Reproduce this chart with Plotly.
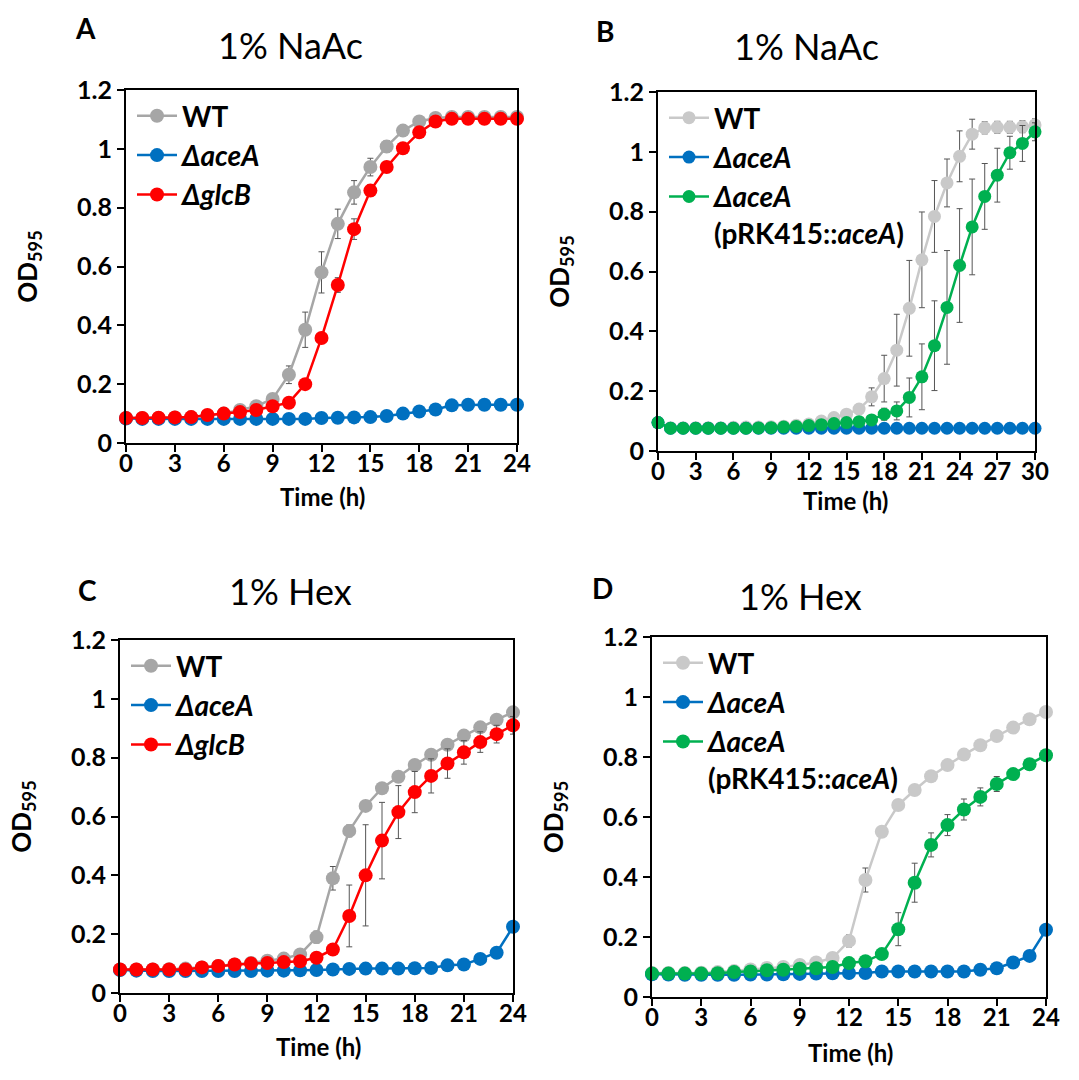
import plotly.graph_objects as go

# ---------------- data ----------------
hours_24 = list(range(25))
hours_30 = list(range(31))

# Panel A: 1% NaAc
A_WT = [0.085, 0.085, 0.085, 0.087, 0.088, 0.093, 0.100, 0.112, 0.125, 0.150, 0.232, 0.385, 0.580, 0.745, 0.852,
        0.938, 1.008, 1.062, 1.093, 1.105, 1.108, 1.108, 1.108, 1.108, 1.108]
A_WT_err = [0, 0, 0, 0, 0, 0, 0, 0, 0.005, 0.01, 0.03, 0.06, 0.07, 0.05, 0.04, 0.03, 0.02, 0.01, 0.01, 0.005,
            0, 0, 0, 0, 0]
A_aceA = [0.083, 0.082, 0.082, 0.082, 0.082, 0.082, 0.082, 0.082, 0.082, 0.082, 0.082, 0.082, 0.085, 0.086, 0.087,
          0.088, 0.092, 0.100, 0.107, 0.114, 0.128, 0.130, 0.130, 0.130, 0.130]
A_glcB = [0.085, 0.085, 0.086, 0.087, 0.088, 0.095, 0.100, 0.105, 0.112, 0.125, 0.137, 0.200, 0.357, 0.537, 0.727,
          0.858, 0.938, 1.002, 1.056, 1.093, 1.102, 1.102, 1.102, 1.102, 1.102]
A_glcB_err = [0, 0, 0, 0, 0, 0, 0, 0, 0, 0, 0, 0.005, 0.01, 0.025, 0.035, 0.02, 0.015, 0.01, 0.01, 0.005,
              0, 0, 0, 0, 0]

# Panel B: 1% NaAc, complementation
B_WT = [0.095, 0.078, 0.078, 0.078, 0.078, 0.078, 0.079, 0.080, 0.080, 0.081, 0.083, 0.086, 0.090, 0.100, 0.112,
        0.123, 0.140, 0.181, 0.242, 0.337, 0.477, 0.639, 0.784, 0.896, 0.985, 1.059, 1.080, 1.082, 1.082, 1.084,
        1.090]
B_WT_err = [0, 0, 0, 0, 0, 0, 0, 0, 0, 0, 0, 0, 0, 0.005, 0.01, 0.01, 0.015, 0.03, 0.078, 0.12, 0.16, 0.16, 0.12,
            0.08, 0.085, 0.05, 0.02, 0.02, 0.02, 0.02, 0.02]
B_aceA = [0.095, 0.076, 0.076, 0.076, 0.076, 0.076, 0.076, 0.076, 0.076, 0.076, 0.076, 0.076, 0.076, 0.076, 0.076,
          0.076, 0.076, 0.076, 0.076, 0.076, 0.076, 0.076, 0.076, 0.076, 0.076, 0.076, 0.076, 0.076, 0.076, 0.076,
          0.076]
B_comp = [0.095, 0.076, 0.076, 0.076, 0.076, 0.076, 0.076, 0.076, 0.077, 0.078, 0.080, 0.082, 0.085, 0.088, 0.092,
          0.095, 0.098, 0.104, 0.123, 0.134, 0.179, 0.248, 0.352, 0.480, 0.620, 0.749, 0.851, 0.922, 0.997, 1.028,
          1.067]
B_comp_err = [0, 0, 0, 0, 0, 0, 0, 0, 0, 0, 0, 0, 0, 0, 0, 0, 0, 0.01, 0.02, 0.03, 0.065, 0.11, 0.15, 0.19, 0.19,
              0.16, 0.11, 0.09, 0.055, 0.06, 0.03]

# Panel C: 1% Hex
C_WT = [0.080, 0.080, 0.080, 0.081, 0.083, 0.087, 0.092, 0.097, 0.102, 0.110, 0.117, 0.131, 0.190, 0.390, 0.551,
        0.636, 0.696, 0.735, 0.775, 0.810, 0.844, 0.875, 0.903, 0.929, 0.954]
C_WT_err = [0, 0, 0, 0, 0, 0, 0, 0, 0, 0, 0, 0.005, 0.02, 0.04, 0.02, 0.01, 0.01, 0.01, 0.01, 0.01, 0.01, 0.01,
            0.01, 0.01, 0.01]
C_aceA = [0.078, 0.076, 0.075, 0.075, 0.075, 0.075, 0.075, 0.075, 0.075, 0.076, 0.076, 0.077, 0.078, 0.080, 0.082,
          0.083, 0.083, 0.083, 0.084, 0.085, 0.094, 0.097, 0.116, 0.137, 0.225]
C_glcB = [0.080, 0.080, 0.080, 0.080, 0.080, 0.087, 0.092, 0.097, 0.100, 0.102, 0.105, 0.108, 0.120, 0.148, 0.262,
          0.400, 0.518, 0.615, 0.683, 0.738, 0.780, 0.818, 0.853, 0.880, 0.910]
C_glcB_err = [0, 0, 0, 0, 0, 0, 0, 0, 0, 0, 0, 0, 0, 0.01, 0.105, 0.172, 0.13, 0.09, 0.07, 0.058, 0.05, 0.04, 0.035,
              0.03, 0.03]

# Panel D: 1% Hex, complementation
D_WT = [0.080, 0.080, 0.080, 0.081, 0.083, 0.087, 0.092, 0.097, 0.100, 0.107, 0.115, 0.130, 0.187, 0.390, 0.551,
        0.640, 0.690, 0.736, 0.773, 0.808, 0.839, 0.870, 0.898, 0.926, 0.950]
D_WT_err = [0, 0, 0, 0, 0, 0, 0, 0, 0, 0, 0, 0, 0.02, 0.04, 0.01, 0.005, 0.005, 0.005, 0.005, 0.005, 0.005, 0.005,
            0.005, 0.005, 0.005]
D_aceA = [0.076, 0.075, 0.074, 0.074, 0.074, 0.074, 0.075, 0.075, 0.076, 0.077, 0.078, 0.079, 0.080, 0.080, 0.085,
          0.085, 0.085, 0.085, 0.085, 0.085, 0.091, 0.096, 0.115, 0.137, 0.224]
D_comp = [0.078, 0.078, 0.078, 0.078, 0.079, 0.083, 0.085, 0.089, 0.091, 0.094, 0.096, 0.100, 0.113, 0.119, 0.143,
          0.226, 0.381, 0.507, 0.573, 0.625, 0.667, 0.710, 0.743, 0.776, 0.806]
D_comp_err = [0, 0, 0, 0, 0, 0, 0, 0, 0, 0, 0, 0, 0, 0, 0, 0.055, 0.065, 0.04, 0.035, 0.035, 0.03, 0.025, 0.015,
              0.01, 0.01]

panel_titles = ["1% NaAc", "1% NaAc", "1% Hex", "1% Hex"]
panel_letters = ["A", "B", "C", "D"]
x_title = "<b>Time (h)</b>"
y_title = "<b>OD<sub>595</sub></b>"
name_WT = "<b>WT</b>"
name_aceA = "<b><i>ΔaceA</i></b>"
name_glcB = "<b><i>ΔglcB</i></b>"
name_comp = "<b><i>ΔaceA</i><br>(pRK415::<i>aceA</i>)</b>"

# ---------------- style ----------------
FONT = "Lato"
GRAY_DARK = "#A6A6A6"
GRAY_LIGHT = "#C9C9C9"
BLUE = "#0070C0"
RED = "#FF0000"
GREEN = "#00B050"
ERR = "#555555"
W, H = 1079, 1080

# plot-area rectangles in pixels: (left, right, top, bottom)
rects = [(126, 517, 90, 443), (658, 1035, 92, 451), (120, 513, 640, 993), (652, 1046, 637, 997)]
title_pos = [(290, 45), (806, 46), (290, 591), (800, 596)]
letter_pos = [(85, 28), (605, 31), (87, 590), (603, 588)]
xtitle_pos = [(322, 496), (845, 500), (318, 1046), (850, 1052)]


def dom(r):
    l, rr, t, b = r
    return [l / W, rr / W], [1 - b / H, 1 - t / H]


fig = go.Figure()


def add(x, y, err, color, name, idx, legend, size):
    ax = "" if idx == 1 else str(idx)
    fig.add_trace(go.Scatter(
        x=x, y=y, name=name, mode="lines+markers",
        line=dict(color=color, width=2.5),
        marker=dict(color=color, size=size),
        error_y=dict(type="data", array=err, visible=err is not None, color=ERR, thickness=1, width=3),
        xaxis="x" + ax, yaxis="y" + ax, legend=legend, legendgroup=name + str(idx),
        cliponaxis=False,
    ))


add(hours_24, A_WT, A_WT_err, GRAY_DARK, name_WT, 1, "legend", 14)
add(hours_24, A_aceA, None, BLUE, name_aceA, 1, "legend", 14)
add(hours_24, A_glcB, A_glcB_err, RED, name_glcB, 1, "legend", 14)

add(hours_30, B_WT, B_WT_err, GRAY_LIGHT, name_WT, 2, "legend2", 13)
add(hours_30, B_aceA, None, BLUE, name_aceA, 2, "legend2", 13)
add(hours_30, B_comp, B_comp_err, GREEN, name_comp, 2, "legend2", 13)

add(hours_24, C_WT, C_WT_err, GRAY_DARK, name_WT, 3, "legend3", 14)
add(hours_24, C_aceA, None, BLUE, name_aceA, 3, "legend3", 14)
add(hours_24, C_glcB, C_glcB_err, RED, name_glcB, 3, "legend3", 14)

add(hours_24, D_WT, D_WT_err, GRAY_LIGHT, name_WT, 4, "legend4", 14)
add(hours_24, D_aceA, None, BLUE, name_aceA, 4, "legend4", 14)
add(hours_24, D_comp, D_comp_err, GREEN, name_comp, 4, "legend4", 14)

layout = dict(
    width=W, height=H, margin=dict(l=0, r=0, t=0, b=0, autoexpand=False),
    paper_bgcolor="white", plot_bgcolor="white",
    font=dict(family=FONT, color="black", size=20),
    showlegend=True,
)

xmax = [24, 30, 24, 24]
annotations = []
for i, r in enumerate(rects):
    idx = i + 1
    ax = "" if idx == 1 else str(idx)
    xd, yd = dom(r)
    layout["xaxis" + ax] = dict(
        domain=xd, anchor="y" + ax, range=[0, xmax[i]], tick0=0, dtick=3,
        showline=True, linecolor="black", linewidth=2, mirror=True,
        ticks="outside", ticklen=7, tickwidth=2, tickcolor="black",
        showgrid=False, zeroline=False, automargin=False, ticklabelstandoff=-9,
        tickfont=dict(family=FONT, size=24, color="black", weight="bold"),
    )
    layout["yaxis" + ax] = dict(
        domain=yd, anchor="x" + ax, range=[0, 1.2], dtick=0.2,
        showline=True, linecolor="black", linewidth=2, mirror=True,
        ticks="outside", ticklen=7, tickwidth=2, tickcolor="black",
        showgrid=False, zeroline=False, automargin=False,
        tickfont=dict(family=FONT, size=25, color="black", weight="bold"),
        title=dict(text=y_title, font=dict(family=FONT, size=26), standoff=32),
    )
    tx, ty = title_pos[i]
    annotations.append(dict(text=panel_titles[i], x=tx / W, y=1 - ty / H, xref="paper", yref="paper",
                            showarrow=False, font=dict(family=FONT, size=36, color="black"),
                            xanchor="center", yanchor="middle"))
    lx, ly = letter_pos[i]
    annotations.append(dict(text="<b>" + panel_letters[i] + "</b>", x=lx / W, y=1 - ly / H, xref="paper",
                            yref="paper", showarrow=False, font=dict(family=FONT, size=28, color="black"),
                            xanchor="center", yanchor="middle"))
    xx, xy = xtitle_pos[i]
    annotations.append(dict(text=x_title, x=xx / W, y=1 - xy / H, xref="paper", yref="paper",
                            showarrow=False, font=dict(family=FONT, size=24, color="black"),
                            xanchor="center", yanchor="middle"))
    leg = "legend" if idx == 1 else "legend" + str(idx)
    layout[leg] = dict(
        x=(r[0] + 6) / W, y=1 - (r[2] + 1) / H, xanchor="left", yanchor="top",
        bgcolor="rgba(0,0,0,0)", borderwidth=0, font=dict(family=FONT, size=28, color="black"),
        tracegroupgap=0, valign="top", itemwidth=40,
    )

layout["annotations"] = annotations
fig.update_layout(**layout)
fig.write_html("out.html", config={"displayModeBar": False},
               post_script="document.body.style.margin='0px';")
